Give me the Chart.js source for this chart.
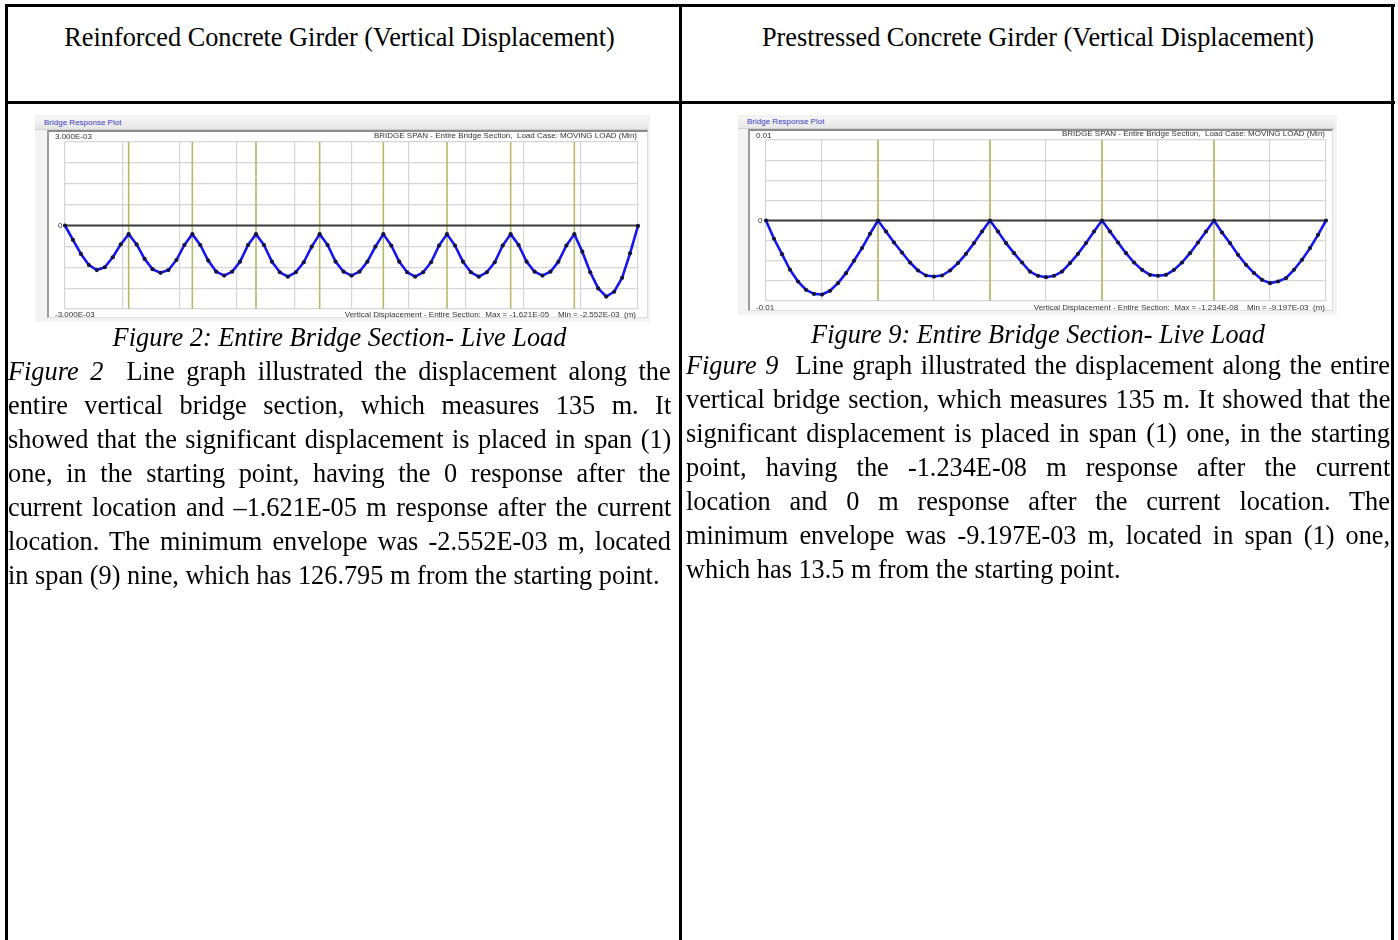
<!DOCTYPE html>
<html>
<head>
<meta charset="utf-8">
<script src="https://cdn.jsdelivr.net/npm/chart.js@4.4.1/dist/chart.umd.min.js"></script>
<style>
html,body{margin:0;padding:0;background:#fff;}
body{width:1398px;height:940px;position:relative;overflow:hidden;font-family:"Liberation Serif","Times New Roman",serif;color:#000;}
.b{position:absolute;background:#000;}
.t{position:absolute;font-size:26.3px;line-height:34px;white-space:nowrap;}
.c{text-align:center;}
.panel{position:absolute;background:#f3f3f3;}
.band{position:absolute;background:linear-gradient(#f6f6f6,#e6e6e6);border-bottom:1px solid #d0d0d0;}
.frame{position:absolute;background:#fff;border-left:2px solid #9c9c9c;border-top:2px solid #8c8c8c;border-right:1px solid #dedede;border-bottom:1px solid #dedede;box-sizing:border-box;}
.small{position:absolute;font-family:"Liberation Sans",Arial,sans-serif;font-size:8px;line-height:10px;color:#333;white-space:nowrap;}
.brp{color:#3c3cc4;}
canvas{position:absolute;}
</style>
</head>
<body>
<!-- table borders -->
<div class="b" style="left:5px;top:4px;width:1390px;height:3px"></div>
<div class="b" style="left:5px;top:101px;width:1390px;height:3px"></div>
<div class="b" style="left:5px;top:4px;width:3px;height:936px"></div>
<div class="b" style="left:679px;top:4px;width:3px;height:936px"></div>
<div class="b" style="left:1391px;top:4px;width:3px;height:936px"></div>

<!-- headers -->
<div class="t c" data-cw="663" style="left:8px;top:21px">Reinforced Concrete Girder (Vertical Displacement)</div>
<div class="t c" data-cw="704" style="left:686px;top:21px">Prestressed Concrete Girder (Vertical Displacement)</div>

<!-- left chart panel -->
<div class="panel" style="left:35px;top:115px;width:615px;height:207px"></div>
<div class="band" style="left:35px;top:117px;width:613px;height:12px"></div>
<div class="small brp" style="left:44px;top:118px">Bridge Response Plot</div>
<div class="frame" style="left:47px;top:130px;width:601px;height:188px"></div>
<canvas id="leftChart" width="601" height="188" style="left:47px;top:130px"></canvas>
<div class="small" style="right:761px;top:131px">BRIDGE SPAN - Entire Bridge Section,&nbsp; Load Case: MOVING LOAD (Min)</div>
<div class="small" style="right:762px;top:310px">Vertical Displacement - Entire Section:&nbsp; Max = -1.621E-05 &nbsp;&nbsp; Min = -2.552E-03 &nbsp;(m)</div>

<!-- right chart panel -->
<div class="panel" style="left:738px;top:115px;width:599px;height:200px"></div>
<div class="band" style="left:738px;top:117px;width:597px;height:11px"></div>
<div class="small brp" style="left:747px;top:117px">Bridge Response Plot</div>
<div class="frame" style="left:748px;top:129px;width:585px;height:182px"></div>
<canvas id="rightChart" width="585" height="182" style="left:748px;top:129px"></canvas>
<div class="small" style="right:73px;top:129px">BRIDGE SPAN - Entire Bridge Section,&nbsp; Load Case: MOVING LOAD (Min)</div>
<div class="small" style="right:73px;top:303px">Vertical Displacement - Entire Section:&nbsp; Max = -1.234E-08 &nbsp;&nbsp; Min = -9.197E-03 &nbsp;(m)</div>

<!-- captions -->
<div class="t c" data-cw="663" style="left:8px;top:321px"><i>Figure 2: Entire Bridge Section- Live Load</i></div>
<div class="t c" data-cw="704" style="left:686px;top:318px"><i>Figure 9: Entire Bridge Section- Live Load</i></div>

<!-- left paragraph -->
<div class="t j" data-w="663" style="left:8px;top:355px"><span><i>Figure 2</i>&nbsp; Line graph illustrated the displacement along the</span></div>
<div class="t j" data-w="663" style="left:8px;top:389px"><span>entire vertical bridge section, which measures 135 m. It</span></div>
<div class="t j" data-w="663" style="left:8px;top:423px"><span>showed that the significant displacement is placed in span (1)</span></div>
<div class="t j" data-w="663" style="left:8px;top:457px"><span>one, in the starting point, having the 0 response after the</span></div>
<div class="t j" data-w="663" style="left:8px;top:491px"><span>current location and –1.621E-05 m response after the current</span></div>
<div class="t j" data-w="663" style="left:8px;top:525px"><span>location. The minimum envelope was -2.552E-03 m, located</span></div>
<div class="t" style="left:8px;top:559px"><span>in span (9) nine, which has 126.795 m from the starting point.</span></div>

<!-- right paragraph -->
<div class="t j" data-w="704" style="left:686px;top:349px"><span><i>Figure 9</i>&nbsp; Line graph illustrated the displacement along the entire</span></div>
<div class="t j" data-w="704" style="left:686px;top:383px"><span>vertical bridge section, which measures 135 m. It showed that the</span></div>
<div class="t j" data-w="704" style="left:686px;top:417px"><span>significant displacement is placed in span (1) one, in the starting</span></div>
<div class="t j" data-w="704" style="left:686px;top:451px"><span>point, having the -1.234E-08 m response after the current</span></div>
<div class="t j" data-w="704" style="left:686px;top:485px"><span>location and 0 m response after the current location. The</span></div>
<div class="t j" data-w="704" style="left:686px;top:519px"><span>minimum envelope was -9.197E-03 m, located in span (1) one,</span></div>
<div class="t" style="left:686px;top:553px"><span>which has 13.5 m from the starting point.</span></div>

<script>
// ---------------- data ----------------
const leftStations = [
  0, 1.875, 3.75, 5.625, 7.5, 9.375, 11.25, 13.125,
  15, 16.875, 18.75, 20.625, 22.5, 24.375, 26.25, 28.125,
  30, 31.875, 33.75, 35.625, 37.5, 39.375, 41.25, 43.125,
  45, 46.875, 48.75, 50.625, 52.5, 54.375, 56.25, 58.125,
  60, 61.875, 63.75, 65.625, 67.5, 69.375, 71.25, 73.125,
  75, 76.875, 78.75, 80.625, 82.5, 84.375, 86.25, 88.125,
  90, 91.875, 93.75, 95.625, 97.5, 99.375, 101.25, 103.125,
  105, 106.875, 108.75, 110.625, 112.5, 114.375, 116.25, 118.125,
  120, 121.875, 123.75, 125.625, 127.5, 129.375, 131.25, 133.125,
  135
];
const leftDisp = [
  0, -0.00052, -0.00102, -0.00142, -0.00160, -0.00150, -0.00114, -0.00068,
  -0.00031, -0.00068, -0.00120, -0.00157, -0.00170, -0.00160, -0.00124, -0.00070,
  -0.00031, -0.00070, -0.00126, -0.00166, -0.00180, -0.00166, -0.00130, -0.00070,
  -0.00031, -0.00070, -0.00130, -0.00168, -0.00184, -0.00168, -0.00132, -0.00076,
  -0.00031, -0.00070, -0.00130, -0.00166, -0.00180, -0.00166, -0.00130, -0.00076,
  -0.00031, -0.00072, -0.00130, -0.00168, -0.00184, -0.00168, -0.00132, -0.00072,
  -0.00031, -0.00072, -0.00130, -0.00168, -0.00184, -0.00168, -0.00132, -0.00072,
  -0.00031, -0.00070, -0.00130, -0.00166, -0.00180, -0.00166, -0.00130, -0.00072,
  -0.00031, -0.00094, -0.00168, -0.00226, -0.002552, -0.00238, -0.00188, -0.00100,
  -0.00001621
];
const leftSupports = [15, 30, 45, 60, 75, 90, 105, 120];
const leftGridX = [0, 13.5, 27, 40.5, 54, 67.5, 81, 94.5, 108, 121.5, 135];
const leftGridY = [-0.003, -0.00225, -0.0015, -0.00075, 0, 0.00075, 0.0015, 0.00225, 0.003];
const leftTickValues = [0.003, 0, -0.003];
const leftTickLabels = ['3.000E-03', '0', '-3.000E-03'];

const rightStations = [
  0, 1.929, 3.857, 5.786, 7.714, 9.643, 11.571, 13.5, 15.429, 17.357, 19.286, 21.214, 23.143, 25.071,
  27, 28.929, 30.857, 32.786, 34.714, 36.643, 38.571, 40.5, 42.429, 44.357, 46.286, 48.214, 50.143, 52.071,
  54, 55.929, 57.857, 59.786, 61.714, 63.643, 65.571, 67.5, 69.429, 71.357, 73.286, 75.214, 77.143, 79.071,
  81, 82.929, 84.857, 86.786, 88.714, 90.643, 92.571, 94.5, 96.429, 98.357, 100.286, 102.214, 104.143, 106.071,
  108, 109.929, 111.857, 113.786, 115.714, 117.643, 119.571, 121.5, 123.429, 125.357, 127.286, 129.214, 131.143, 133.071,
  135
];
const rightDisp = [
  0, -0.00227, -0.00418, -0.00612, -0.00758, -0.00861, -0.00912, -0.009197, -0.00873, -0.00778, -0.00654, -0.00501, -0.00343, -0.00165,
  0, -0.00137, -0.00273, -0.00398, -0.00522, -0.00621, -0.00683, -0.00696, -0.00683, -0.00621, -0.00529, -0.00414, -0.00281, -0.00137,
  0, -0.00137, -0.00281, -0.00406, -0.00522, -0.00634, -0.00687, -0.00704, -0.00687, -0.00634, -0.00529, -0.00414, -0.00281, -0.00137,
  0, -0.00137, -0.00273, -0.00406, -0.00522, -0.00613, -0.00675, -0.00687, -0.00675, -0.00613, -0.00522, -0.00406, -0.00273, -0.00137,
  0, -0.00149, -0.00281, -0.00426, -0.00550, -0.00653, -0.00737, -0.00778, -0.00758, -0.00716, -0.00612, -0.00488, -0.00343, -0.00178,
  -0.00000001234
];
const rightSupports = [27, 54, 81, 108];
const rightGridX = [0, 13.5, 27, 40.5, 54, 67.5, 81, 94.5, 108, 121.5, 135];
const rightGridY = [-0.01, -0.0075, -0.005, -0.0025, 0, 0.0025, 0.005, 0.0075, 0.01];
const rightTickValues = [0.01, 0, -0.01];
const rightTickLabels = ['0.01', '0', '-0.01'];

// ---------------- text layout ----------------
function layoutText(){
  document.querySelectorAll('.t.c').forEach(el => {
    el.style.width = parseFloat(el.dataset.cw) + 'px';
  });
  document.querySelectorAll('.t.j').forEach(el => {
    const W = parseFloat(el.dataset.w);
    el.style.wordSpacing = '0px';
    const span = el.firstElementChild;
    const nat = span.offsetWidth;
    const n = (el.textContent.match(/[ \u00a0]/g) || []).length;
    if (n > 0) el.style.wordSpacing = ((W - nat) / n) + 'px';
  });
}
layoutText();
if (document.fonts && document.fonts.ready) document.fonts.ready.then(layoutText);

// ---------------- chart ----------------
const bridgePlugin = {
  id: 'bridge',
  beforeDatasetsDraw(chart, args, o) {
    const ctx = chart.ctx, a = chart.chartArea, x = chart.scales.x, y = chart.scales.y;
    ctx.save();
    ctx.strokeStyle = '#b9b86a';
    ctx.lineWidth = 1.6;
    o.supports.forEach(s => {
      const px = x.getPixelForValue(s);
      ctx.beginPath(); ctx.moveTo(px, a.top); ctx.lineTo(px, a.bottom); ctx.stroke();
    });
    const zy = y.getPixelForValue(0);
    ctx.strokeStyle = '#3c3c3c';
    ctx.lineWidth = 2;
    ctx.beginPath(); ctx.moveTo(a.left, zy); ctx.lineTo(a.right, zy); ctx.stroke();
    ctx.restore();
  },
  afterDraw(chart, args, o) {
    const ctx = chart.ctx, y = chart.scales.y;
    ctx.save();
    ctx.font = '8px "Liberation Sans", Arial, sans-serif';
    ctx.fillStyle = '#333';
    ctx.textBaseline = 'middle';
    ctx.textAlign = 'left';
    o.values.forEach((v, i) => {
      ctx.fillText(o.labels[i], o.labelX[i], y.getPixelForValue(v) + o.labelDy[i]);
    });
    ctx.restore();
  }
};

function makeChart(id, stations, disp, gridX, gridY, supports, tickVals, tickLabels, padding, labelX, labelDy) {
  const cv = document.getElementById(id);
  const pts = stations.map((s, i) => ({ x: s, y: disp[i] }));
  return new Chart(cv.getContext('2d'), {
    type: 'line',
    data: {
      datasets: [{
        data: pts,
        borderColor: '#1515ee',
        borderWidth: 2.6,
        borderJoinStyle: 'round',
        pointRadius: 2.1,
        pointBackgroundColor: '#14143c',
        pointBorderColor: '#14143c',
        pointBorderWidth: 0,
        tension: 0,
        fill: false,
        clip: false
      }]
    },
    options: {
      responsive: false,
      animation: false,
      devicePixelRatio: 1,
      layout: { padding: padding },
      plugins: {
        legend: { display: false },
        tooltip: { enabled: false },
        bridge: { supports: supports, values: tickVals, labels: tickLabels, labelX: labelX, labelDy: labelDy }
      },
      scales: {
        x: {
          type: 'linear', min: 0, max: 135,
          border: { display: false },
          grid: { color: '#d6d6d6', lineWidth: 1.2, drawTicks: false },
          ticks: { display: false },
          afterBuildTicks: (s) => { s.ticks = gridX.map(v => ({ value: v })); }
        },
        y: {
          type: 'linear', min: Math.min(...gridY), max: Math.max(...gridY),
          border: { display: false },
          grid: { color: '#d6d6d6', lineWidth: 1.2, drawTicks: false },
          ticks: { display: false },
          afterBuildTicks: (s) => { s.ticks = gridY.map(v => ({ value: v })); }
        }
      }
    },
    plugins: [bridgePlugin]
  });
}

makeChart('leftChart', leftStations, leftDisp, leftGridX, leftGridY, leftSupports,
  leftTickValues, leftTickLabels, { left: 18, top: 12, right: 10, bottom: 9 },
  [8, 11, 8], [-5.5, 0, 6]);
makeChart('rightChart', rightStations, rightDisp, rightGridX, rightGridY, rightSupports,
  rightTickValues, rightTickLabels, { left: 18, top: 11, right: 7, bottom: 10 },
  [8, 10, 8], [-4, 0, 6.5]);
</script>
</body>
</html>
